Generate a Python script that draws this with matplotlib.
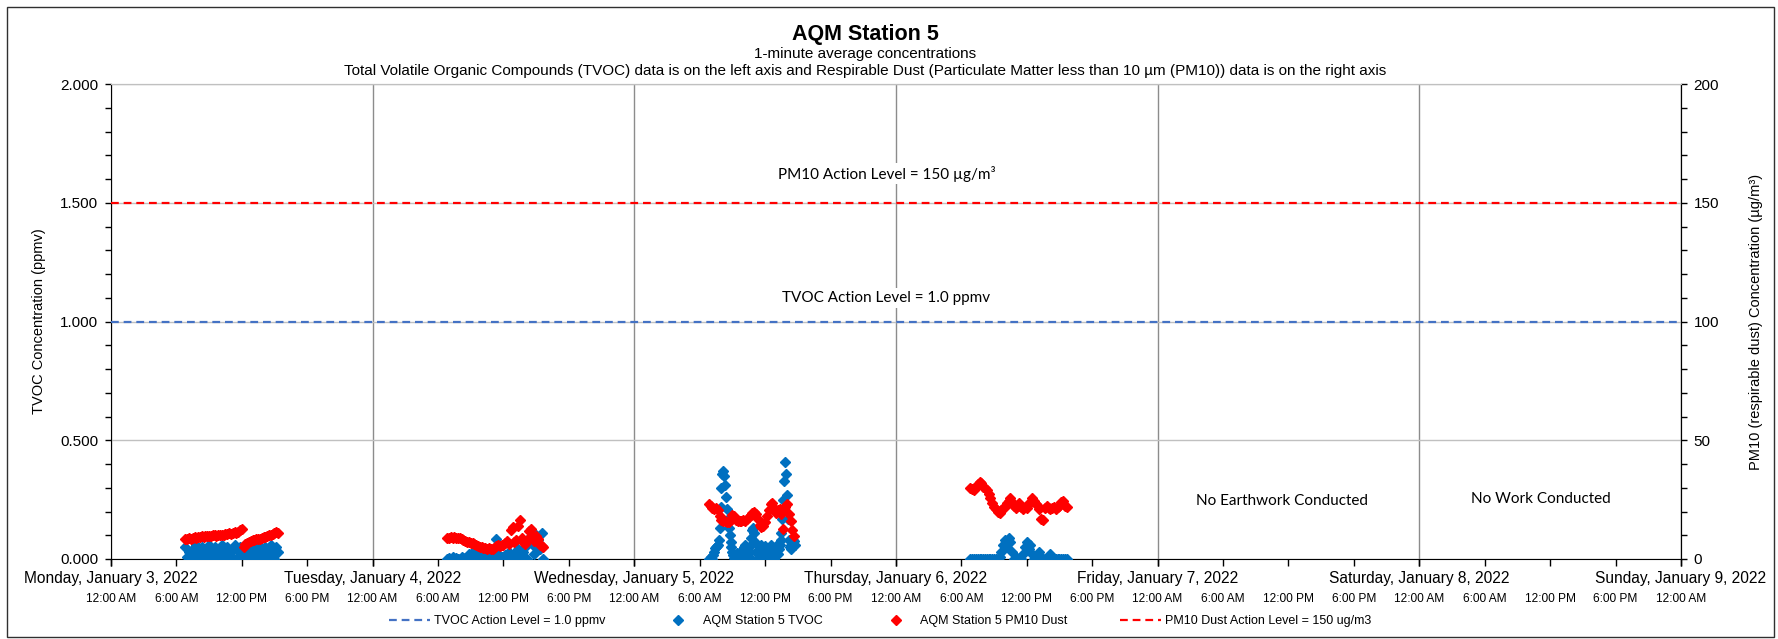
import numpy as np
import pandas as pd
import matplotlib
matplotlib.use("Agg")
import matplotlib.pyplot as plt
import matplotlib.dates as mdates
import matplotlib.ticker as ticker
from matplotlib.patches import Rectangle

plt.rcParams['font.family'] = ['Liberation Sans', 'DejaVu Sans']

# ---- data (TVOC in ppmv, PM10 in ug/m3) ----
# work days start logging 6:50 AM, 10 minute readings (Wed TVOC every 5 min)
mon_start = "2022-01-03 06:50"
mon_tvoc = [0.05, 0.01, 0.03, 0.0, 0.04, 0.02, 0.06,
            0.0, 0.03, 0.05, 0.01, 0.04, 0.0,
            0.06, 0.02, 0.0, 0.05, 0.03, 0.01,
            0.04, 0.06, 0.0, 0.02, 0.05, 0.01,
            0.03, 0.0, 0.06, 0.04, 0.01, 0.05,
            0.02, 0.0, 0.04, 0.06, 0.01, 0.03,
            0.05, 0.0, 0.02, 0.06, 0.04, 0.01,
            0.03, 0.05, 0.0, 0.04, 0.06, 0.02,
            0.0, 0.05, 0.03]
mon_pm10 = [8.3, 8.5, 8.8, 8.6, 8.9, 9.2, 9.0,
            9.1, 9.4, 9.6, 9.3, 9.5, 9.8,
            9.7, 9.6, 9.9, 10.1, 9.8, 10.0,
            10.3, 10.1, 10.2, 10.5, 10.4, 10.8,
            10.6, 10.9, 11.2, 11.0, 11.5, 12.0,
            12.8, 5.0, 6.2, 6.8, 7.0, 7.4,
            7.8, 8.0, 8.3, 8.5, 8.6, 8.9,
            9.2, 9.4, 9.6, 9.9, 10.3, 10.6,
            10.9, 11.4, 10.8]

tue_start = "2022-01-04 06:50"
tue_tvoc = [0.0, 0.005, 0.0, 0.01, 0.0, 0.005, 0.0,
            0.0, 0.01, 0.0, 0.005, 0.0, 0.02,
            0.01, 0.03, 0.0, 0.025, 0.005, 0.03,
            0.0, 0.02, 0.03, 0.0, 0.035, 0.01,
            0.0, 0.04, 0.085, 0.02, 0.0, 0.01,
            0.0, 0.015, 0.0, 0.03, 0.005, 0.0,
            0.02, 0.0, 0.04, 0.01, 0.0, 0.03,
            0.05, 0.0, 0.09, 0.12, 0.06, 0.02,
            0.10, 0.08, 0.04, 0.11, 0.0]
tue_pm10 = [8.7, 9.0, 9.2, 9.0, 9.1, 8.9, 9.0,
            8.8, 8.3, 7.8, 7.5, 7.2, 7.0,
            6.8, 6.6, 6.3, 5.9, 5.5, 5.2,
            4.9, 4.7, 4.5, 4.3, 4.6, 4.2,
            4.1, 4.8, 5.4, 5.8, 5.3, 5.9,
            6.0, 6.8, 7.5, 6.5, 12.0, 13.5,
            7.0, 8.0, 14.0, 16.3, 9.0, 7.0,
            6.5, 8.0, 11.8, 12.5, 9.5, 7.5,
            9.7, 8.5, 6.0, 5.5, 5.0]

wed_start = "2022-01-05 06:50"
wed_tvoc = [0.0, 0.0, 0.005, 0.01, 0.0, 0.015, 0.03, 0.045, 0.05, 0.055, 0.06, 0.08,
            0.13, 0.22, 0.30, 0.36, 0.37, 0.35, 0.31, 0.26, 0.21, 0.17, 0.13, 0.10,
            0.07, 0.05, 0.03, 0.015, 0.005, 0.0, 0.01, 0.025, 0.01, 0.0, 0.02, 0.035,
            0.015, 0.0, 0.03, 0.05, 0.06, 0.04, 0.02, 0.0, 0.01, 0.03, 0.06, 0.09,
            0.12, 0.13, 0.11, 0.07, 0.03, 0.0, 0.0, 0.02, 0.045, 0.06, 0.04, 0.015,
            0.0, 0.03, 0.055, 0.04, 0.01, 0.0, 0.0, 0.02, 0.05, 0.06, 0.035, 0.01,
            0.0, 0.03, 0.055, 0.04, 0.02, 0.04, 0.06, 0.08, 0.11, 0.17, 0.25, 0.33,
            0.41, 0.36, 0.27, 0.17, 0.08, 0.05, 0.04, 0.06, 0.07, 0.08, 0.075, 0.06]
wed_pm10 = [23.0, 22.5, 21.5, 21.0, 21.5, 20.5, 18.0,
            16.5, 16.0, 16.0, 15.5, 15.5, 16.5,
            18.5, 18.0, 16.5, 16.0, 16.0, 16.0,
            16.5, 16.0, 17.0, 17.5, 18.5, 19.5,
            20.0, 19.0, 17.0, 14.5, 13.5, 14.0,
            15.5, 18.0, 20.5, 23.0, 23.5, 21.5,
            19.5, 20.5, 21.0, 19.0, 12.5, 22.0,
            23.0, 19.0, 16.0, 12.0, 9.5]

thu_start = "2022-01-06 06:50"
thu_tvoc = [0.0, 0.0, 0.0, 0.0, 0.0, 0.0, 0.0,
            0.0, 0.0, 0.0, 0.0, 0.0, 0.0,
            0.0, 0.0, 0.0, 0.01, 0.03, 0.06,
            0.08, 0.05, 0.09, 0.07, 0.03, 0.0,
            0.01, 0.0, 0.0, 0.0, 0.02, 0.05,
            0.07, 0.04, 0.06, 0.02, 0.0, 0.0,
            0.015, 0.03, 0.01, 0.0, 0.0, 0.0,
            0.0, 0.02, 0.01, 0.0, 0.0, 0.0,
            0.0, 0.0, 0.0, 0.0, 0.0]
thu_pm10 = [30.0, 29.5, 29.0, 30.5, 31.5, 32.5, 32.0,
            30.5, 30.0, 29.0, 27.5, 25.5, 23.5,
            22.0, 21.0, 20.0, 19.5, 20.5, 21.5,
            22.0, 23.5, 24.5, 25.5, 24.0, 22.5,
            21.5, 22.5, 23.5, 22.0, 21.0, 22.0,
            21.5, 23.0, 24.0, 25.5, 24.5, 23.0,
            22.5, 21.0, 17.0, 16.5, 21.5, 22.5,
            21.5, 21.0, 21.5, 22.0, 21.0, 22.0,
            22.5, 24.0, 24.5, 22.5, 22.0]

tvoc_action = 1.0
pm10_action = 150
day_ticks = pd.date_range("2022-01-03", "2022-01-09", freq="D")


def times(start, vals, step="10min"):
    return pd.date_range(start, periods=len(vals), freq=step)


tvoc_t = np.concatenate([times(mon_start, mon_tvoc), times(tue_start, tue_tvoc),
                         times(wed_start, wed_tvoc, "5min"), times(thu_start, thu_tvoc)])
tvoc_v = mon_tvoc + tue_tvoc + wed_tvoc + thu_tvoc
pm_t = np.concatenate([times(mon_start, mon_pm10), times(tue_start, tue_pm10),
                       times(wed_start, wed_pm10), times(thu_start, thu_pm10)])
pm_v = mon_pm10 + tue_pm10 + wed_pm10 + thu_pm10

fig = plt.figure(figsize=(17.78, 6.39), dpi=100)
ax = fig.add_axes([0.0624, 0.1252, 0.883, 0.7433])
ax2 = ax.twinx()

# figure border
fig.patches.append(Rectangle((0.004, 0.003), 0.994, 0.986, transform=fig.transFigure,
                             fill=False, edgecolor='#303030', linewidth=1))

# action level lines
l1, = ax.plot([day_ticks[0], day_ticks[-1]], [tvoc_action, tvoc_action], color='#4472C4',
              lw=1.6, dashes=(3.5, 2.2), label="TVOC Action Level = 1.0 ppmv", zorder=3)
p1, = ax.plot(tvoc_t, tvoc_v, linestyle='none', marker='D', ms=5.5, color='#0070C0',
              mec='#0070C0', label="AQM Station 5 TVOC", zorder=4)
p2, = ax2.plot(pm_t, pm_v, linestyle='none', marker='D', ms=5.5, color='#FF0000',
               mec='#FF0000', label="AQM Station 5 PM10 Dust", zorder=4)
l2, = ax2.plot([day_ticks[0], day_ticks[-1]], [pm10_action, pm10_action], color='#FF0000',
               lw=1.6, dashes=(3.5, 2.2), label="PM10 Dust Action Level = 150 ug/m3", zorder=3)

ax.set_xlim(day_ticks[0], day_ticks[-1])
ax.set_ylim(0, 2.0)
ax2.set_ylim(0, 200)

# x axis: day names on major ticks, clock times on 6-hour minor ticks
ax.xaxis.remove_overlapping_locs = False
ax.xaxis.set_major_locator(mdates.DayLocator())
ax.xaxis.set_minor_locator(mdates.HourLocator(byhour=[0, 6, 12, 18]))


def day_fmt(x, pos=None):
    d = mdates.num2date(x)
    return f"{d:%A}, {d:%B} {d.day}, {d.year}"


def hour_fmt(x, pos=None):
    d = mdates.num2date(x)
    h = d.hour % 12
    if h == 0:
        h = 12
    return f"{h}:00 {'AM' if d.hour < 12 else 'PM'}"


ax.xaxis.set_major_formatter(ticker.FuncFormatter(day_fmt))
ax.xaxis.set_minor_formatter(ticker.FuncFormatter(hour_fmt))
ax.tick_params(axis='x', which='major', direction='out', length=5, width=1, pad=3.5, labelsize=11.2)
ax.tick_params(axis='x', which='minor', direction='out', length=5, width=1, pad=19.5, labelsize=8.6)

ax.yaxis.set_major_locator(ticker.MultipleLocator(0.5))
ax.yaxis.set_minor_locator(ticker.MultipleLocator(0.1))
ax.yaxis.set_major_formatter(ticker.FormatStrFormatter('%.3f'))
ax.tick_params(axis='y', which='both', direction='out', length=4, width=1, pad=5, labelsize=11)

ax2.yaxis.set_major_locator(ticker.MultipleLocator(50))
ax2.yaxis.set_minor_locator(ticker.MultipleLocator(10))
ax2.tick_params(axis='y', which='both', direction='out', length=4, width=1, pad=5, labelsize=11)

# grid
ax.grid(axis='x', which='major', color='#8C8C8C', lw=1)
ax.grid(axis='y', which='major', color='#C0C0C0', lw=1)
ax.set_axisbelow(True)
for a in (ax, ax2):
    a.spines['top'].set_color('#C0C0C0')
ax2.spines['left'].set_visible(False)
ax2.spines['bottom'].set_visible(False)

ax.set_ylabel("TVOC Concentration (ppmv)", fontsize=10.5, labelpad=10)
ax2.set_ylabel("PM10 (respirable dust) Concentration (µg/m³)", fontsize=10.5, labelpad=21.5)

# annotations
box = dict(facecolor='white', edgecolor='none', pad=2)
ax2.text(0.494, 1.623 / 2.0, "PM10 Action Level = 150 µg/m³", transform=ax.transAxes,
         ha='center', va='center', fontsize=11, family=['Lato', 'DejaVu Sans'], bbox=box, zorder=5)
ax2.text(0.494, 1.099 / 2.0, "TVOC Action Level = 1.0 ppmv", transform=ax.transAxes,
         ha='center', va='center', fontsize=11, family=['Lato', 'DejaVu Sans'], bbox=box, zorder=5)
ax2.text(pd.Timestamp("2022-01-07 11:24"), 24.4, "No Earthwork Conducted", ha='center',
         va='center', fontsize=11, family=['Lato', 'DejaVu Sans'])
ax2.text(pd.Timestamp("2022-01-08 11:08"), 25.3, "No Work Conducted", ha='center',
         va='center', fontsize=11, family=['Lato', 'DejaVu Sans'])

# titles
fig.text(0.4866, 0.946, "AQM Station 5", ha='center', va='center', fontsize=15.5, fontweight='bold')
fig.text(0.4866, 0.916, "1-minute average concentrations", ha='center', va='center', fontsize=11)
fig.text(0.4866, 0.889, "Total Volatile Organic Compounds (TVOC) data is on the left axis and "
         "Respirable Dust (Particulate Matter less than 10 µm (PM10)) data is on the right axis",
         ha='center', va='center', fontsize=11)

fig.legend(handles=[l1, p1, p2, l2], loc='center', bbox_to_anchor=(0.495, 0.028), ncol=4,
           frameon=False, fontsize=9, handlelength=3.3, handletextpad=0.3, columnspacing=4.2)

fig.savefig("out.png", dpi=100)
